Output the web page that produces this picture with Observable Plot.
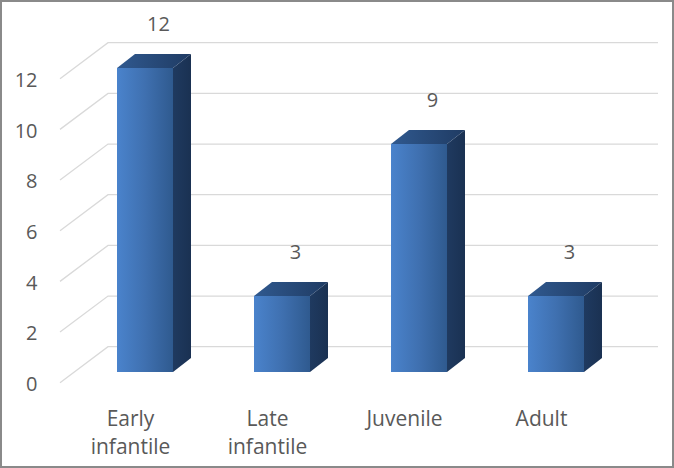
<!DOCTYPE html>
<html><head><meta charset="utf-8">
<script src="https://cdn.jsdelivr.net/npm/d3@7"></script>
<script src="https://cdn.jsdelivr.net/npm/@observablehq/plot@0.6"></script>
<style>
html,body{margin:0;padding:0;background:#fff;}
#chart svg{display:block;outline:2px solid #8a8a8a;outline-offset:-2px;}
</style></head><body><div id="chart"></div>
<script>
const categories = ["Early infantile", "Late infantile", "Juvenile", "Adult"];
const categoryLabels = ["Early\ninfantile", "Late\ninfantile", "Juvenile", "Adult"];
const counts = [12, 3, 9, 3];
const yTicks = [0, 2, 4, 6, 8, 10, 12];

const data = categories.map((c, i) => ({cat: c, label: categoryLabels[i], value: counts[i]}));

const TEXT = "#595959", GRID = "#d9d9d9";
const BAR_DX = 18, BAR_DY = -14;
const WALL_DX = 48, WALL_DY = -36, FLOOR_FRONT_DY = 10.7;

function gradDefs() {
  const g = d3.create("svg:g");
  const defs = g.append("defs");
  const mk = (id, stops) => {
    const lg = defs.append("linearGradient").attr("id", id)
      .attr("x1", 0).attr("y1", 0).attr("x2", 1).attr("y2", 0);
    stops.forEach(([o, c]) => lg.append("stop").attr("offset", o).attr("stop-color", c));
  };
  mk("gFront", [[0, "#4a83cc"], [0.5, "#3f70b0"], [1, "#2f5a8f"]]);
  mk("gSide", [[0, "#1f3a60"], [1, "#1a3152"]]);
  mk("gTop", [[0, "#30598f"], [1, "#1f3b63"]]);
  return g.node();
}

function wall(index, scales, values, dims) {
  const y = scales.y;
  const g = d3.create("svg:g").attr("stroke", GRID).attr("stroke-width", 1.3).attr("fill", "none");
  const x0 = dims.marginLeft + 25;
  const xb = x0 + WALL_DX;
  const xr = dims.width - 16;
  for (const v of yTicks) {
    const yf = y(v) + FLOOR_FRONT_DY;
    const yb = yf + WALL_DY;
    g.append("path").attr("d", `M${x0},${yf}L${xb},${yb}L${xr},${yb}`);
  }
  return g.node();
}

function faces(index, scales) {
  const {x, y} = scales;
  const bw = x.bandwidth();
  const g = d3.create("svg:g");
  for (const d of data) {
    const xl = x(d.cat), xr = xl + bw, yt = y(d.value), y0 = y(0);
    g.append("path").attr("fill", "url(#gSide)")
      .attr("d", `M${xr},${yt}L${xr + BAR_DX},${yt + BAR_DY}L${xr + BAR_DX},${y0 + BAR_DY}L${xr},${y0}Z`);
    g.append("path").attr("fill", "url(#gTop)")
      .attr("d", `M${xl},${yt}L${xl + BAR_DX},${yt + BAR_DY}L${xr + BAR_DX},${yt + BAR_DY}L${xr},${yt}Z`);
  }
  return g.node();
}

const chart = Plot.plot({
  width: 674,
  height: 468,
  marginTop: 68,
  marginBottom: 96,
  marginLeft: 35,
  marginRight: 9,
  style: {fontFamily: "'Open Sans', sans-serif", background: "#fff"},
  x: {domain: categories, padding: 0.592, axis: null},
  y: {domain: [0, 12], axis: null},
  marks: [
    gradDefs,
    wall,
    Plot.text(yTicks, {y: d => d, text: d => String(d), frameAnchor: "left", textAnchor: "end", dx: 2, dy: 12, fontSize: 20, fill: TEXT}),
    Plot.barY(data, {x: "cat", y: "value", fill: "url(#gFront)"}),
    faces,
    Plot.text(data, {x: "cat", y: "value", text: d => String(d.value), dx: 13, dy: -44, fontSize: 20, fill: TEXT}),
    Plot.text(data, {x: "cat", y: () => 0, text: "label", dx: -15, dy: 33, lineAnchor: "top", lineHeight: 1.35, fontSize: 21, fill: TEXT})
  ]
});
document.getElementById("chart").appendChild(chart);
</script></body></html>
